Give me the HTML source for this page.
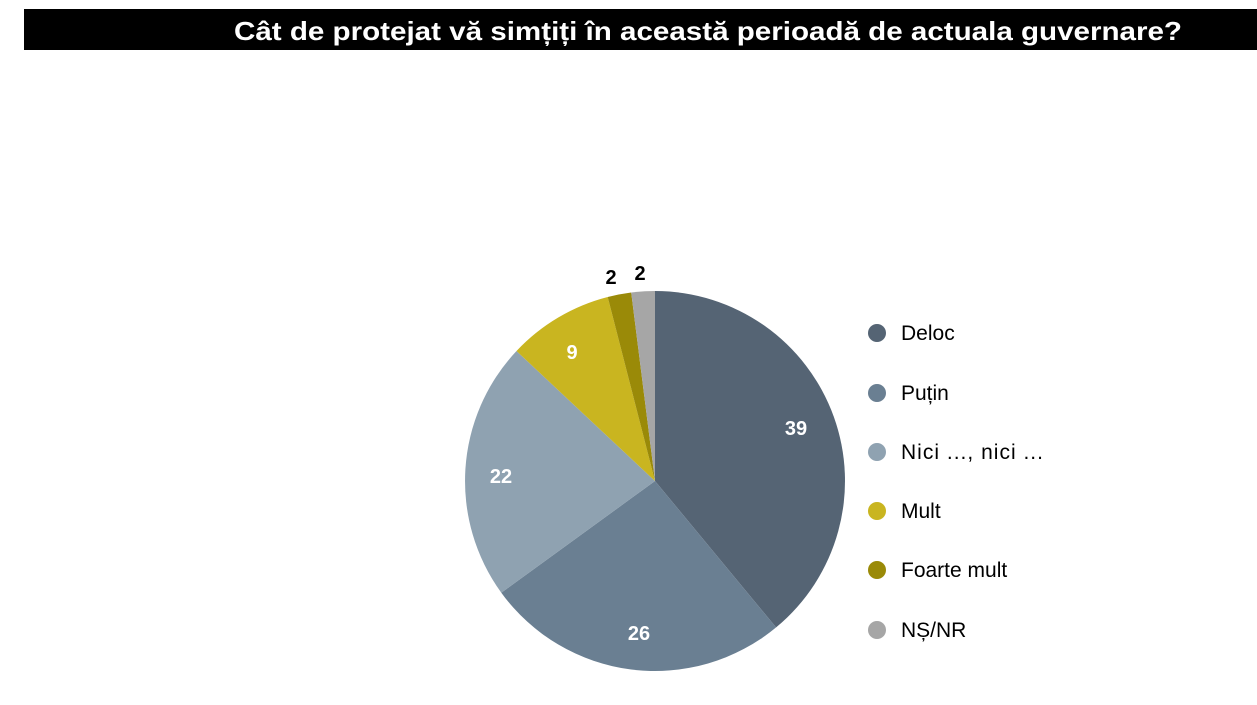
<!DOCTYPE html>
<html><head><meta charset="utf-8"><style>
body{margin:0;width:1257px;height:705px;background:#fff;overflow:hidden;font-family:"Liberation Sans","DejaVu Sans",sans-serif;}
</style></head><body>
<svg width="1257" height="705" xmlns="http://www.w3.org/2000/svg" style="position:absolute;left:0;top:0">
<rect x="24" y="9" width="1233" height="41" fill="#000"/>
<text x="708" y="40" text-anchor="middle" fill="#fff" font-size="26" font-weight="bold" font-family="Liberation Sans, DejaVu Sans, sans-serif" textLength="948" lengthAdjust="spacingAndGlyphs">Cât de protejat vă simțiți în această perioadă de actuala guvernare?</text>
<g stroke="none">
<path d="M655,481 L655,291 A190,190 0 0 1 776.1,627.4 Z" fill="#556474"/>
<path d="M655,481 L776.1,627.4 A190,190 0 0 1 501.3,592.7 Z" fill="#6a7f92"/>
<path d="M655,481 L501.3,592.7 A190,190 0 0 1 516.5,351.0 Z" fill="#8fa2b1"/>
<path d="M655,481 L516.5,351.0 A190,190 0 0 1 607.7,297.0 Z" fill="#c9b520"/>
<path d="M655,481 L607.7,297.0 A190,190 0 0 1 631.2,292.5 Z" fill="#9a8a08"/>
<path d="M655,481 L631.2,292.5 A190,190 0 0 1 655,291 Z" fill="#a6a6a6"/>
</g>
<g font-family="Liberation Sans, DejaVu Sans, sans-serif" font-size="20" font-weight="bold" text-anchor="middle" fill="#fff">
<text x="796" y="435">39</text>
<text x="639" y="640">26</text>
<text x="501" y="483">22</text>
<text x="572" y="359">9</text>
<text x="611" y="284" fill="#000">2</text>
<text x="640" y="280" fill="#000">2</text>
</g>
<g font-family="Liberation Sans, DejaVu Sans, sans-serif" font-size="21" fill="#000">
<circle cx="877" cy="333" r="9" fill="#556474"/><text x="901" y="340">Deloc</text>
<circle cx="877" cy="393" r="9" fill="#6a7f92"/><text x="901" y="400">Puțin</text>
<circle cx="877" cy="452" r="9" fill="#8fa2b1"/><text x="901" y="459" textLength="142" lengthAdjust="spacing">Nici ..., nici ...</text>
<circle cx="877" cy="511" r="9" fill="#c9b520"/><text x="901" y="518">Mult</text>
<circle cx="877" cy="570" r="9" fill="#9a8a08"/><text x="901" y="577">Foarte mult</text>
<circle cx="877" cy="630" r="9" fill="#a6a6a6"/><text x="901" y="637">NȘ/NR</text>
</g>
</svg>
</body></html>
